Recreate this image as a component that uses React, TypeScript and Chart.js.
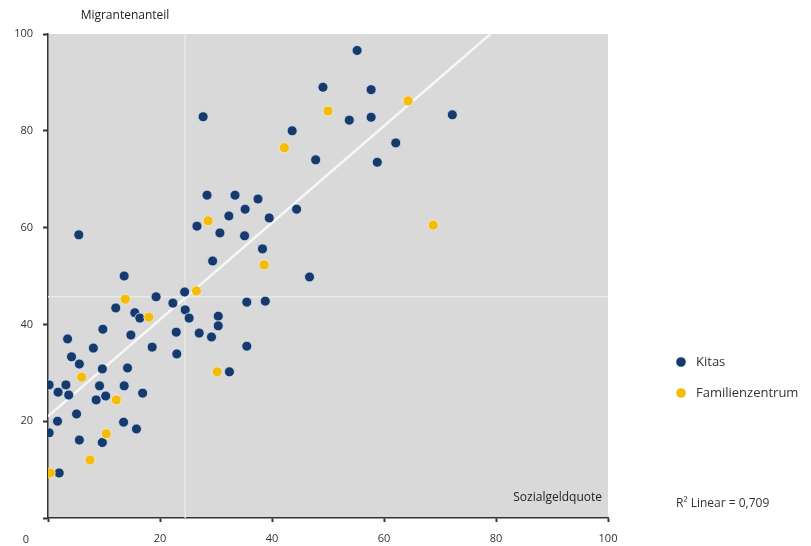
import React, { useEffect, useRef } from "react";
import { Chart, registerables } from "chart.js";

Chart.register(...registerables);

// Kitas (Sozialgeldquote, Migrantenanteil)
const kitasX = [55.2, 49.1, 57.7, 27.7, 43.6, 72.2, 53.8, 57.7, 62.1, 47.8, 58.8, 28.4, 33.4, 37.5, 35.2, 32.3, 39.5, 44.4, 26.6, 30.7, 35.1, 5.5, 38.3, 29.4, 46.7, 13.6, 24.4, 19.3, 22.3, 35.5, 38.8, 12.1, 24.5, 15.5, 16.4, 25.2, 30.4, 30.4, 9.8, 27.0, 22.9, 29.2, 14.8, 3.5, 8.1, 18.6, 35.5, 23.0, 4.2, 5.6, 9.7, 14.2, 32.4, 0.2, 3.2, 1.8, 3.7, 9.2, 13.6, 8.6, 10.3, 16.9, 5.1, 1.7, 13.5, 15.8, 0.2, 5.6, 9.7, 2.0];
const kitasY = [96.6, 89.0, 88.5, 82.9, 80.0, 83.3, 82.2, 82.8, 77.5, 74.0, 73.5, 66.7, 66.7, 65.9, 63.8, 62.4, 62.0, 63.8, 60.3, 58.9, 58.3, 58.5, 55.6, 53.1, 49.8, 50.0, 46.7, 45.7, 44.4, 44.6, 44.8, 43.4, 43.0, 42.4, 41.3, 41.3, 41.7, 39.7, 39.0, 38.2, 38.4, 37.4, 37.8, 37.0, 35.1, 35.3, 35.5, 33.9, 33.3, 31.8, 30.8, 31.0, 30.2, 27.5, 27.5, 26.0, 25.4, 27.3, 27.3, 24.4, 25.2, 25.8, 21.5, 20.0, 19.8, 18.4, 17.6, 16.1, 15.6, 9.3];

// Familienzentrum
const famX = [64.3, 50.0, 42.2, 68.8, 28.6, 38.6, 26.5, 13.8, 18.0, 6.0, 30.2, 12.2, 10.4, 7.5, 0.4];
const famY = [86.2, 84.1, 76.5, 60.5, 61.4, 52.3, 46.9, 45.2, 41.5, 29.1, 30.2, 24.4, 17.4, 12.0, 9.3];

// Linear fit line (endpoints) and mean reference lines
const fitX = [0, 79];
const fitY = [21, 100];
const meanX = 24.5;
const meanY = 45.7;

const xTicks = [0, 20, 40, 60, 80, 100];
const yTicks = [0, 20, 40, 60, 80, 100];

const seriesNames = ["Kitas", "Familienzentrum"];
const xTitle = "Sozialgeldquote";
const yTitle = "Migrantenanteil";
const rText = "R² Linear = 0,709";

const BLUE = "#173a6c";
const YELLOW = "#f3bb0a";
const FONT = "'Open Sans', 'DejaVu Sans', sans-serif";

export default function App() {
  const ref = useRef<HTMLCanvasElement | null>(null);

  useEffect(() => {
    if (!ref.current) return;
    const bgPlugin = {
      id: "bg",
      beforeDraw(chart: any) {
        const { ctx, chartArea } = chart;
        ctx.save();
        ctx.fillStyle = "#d9d9d9";
        ctx.fillRect(chartArea.left, chartArea.top, chartArea.right - chartArea.left, chartArea.bottom - chartArea.top);
        ctx.restore();
      },
      afterDraw(chart: any) {
        const { ctx, chartArea } = chart;
        ctx.save();
        ctx.fillStyle = "#222";
        ctx.textBaseline = "middle";
        ctx.font = `12px ${FONT}`;
        ctx.textAlign = "center";
        ctx.fillText(yTitle, 125, 16);
        ctx.textAlign = "right";
        ctx.fillText(xTitle, chartArea.right - 6, chartArea.bottom - 20);
        // the origin label
        ctx.font = `11px ${FONT}`;
        ctx.fillStyle = "#333";
        ctx.textAlign = "center";
        ctx.fillText(String(xTicks[0]), 26, 540);
        // legend
        const cols = [BLUE, YELLOW];
        ctx.font = `13px ${FONT}`;
        ctx.textAlign = "left";
        seriesNames.forEach((n, i) => {
          const y = 362 + i * 31;
          ctx.beginPath();
          ctx.arc(681, y, 4.8, 0, Math.PI * 2);
          ctx.fillStyle = cols[i];
          ctx.fill();
          ctx.fillStyle = "#333";
          ctx.fillText(n, 696, y);
        });
        ctx.font = `12px ${FONT}`;
        ctx.fillText(rText, 676, 504);
        ctx.restore();
      },
    };

    const chart = new Chart(ref.current, {
      type: "scatter",
      data: {
        datasets: [
          {
            label: seriesNames[0],
            data: kitasX.map((x, i) => ({ x, y: kitasY[i] })),
            backgroundColor: BLUE,
            borderColor: "rgba(215,228,248,0.8)",
            borderWidth: 1,
            pointRadius: 5,
            order: 1,
          },
          {
            label: seriesNames[1],
            data: famX.map((x, i) => ({ x, y: famY[i] })),
            backgroundColor: YELLOW,
            borderColor: "rgba(250,235,190,0.8)",
            borderWidth: 1,
            pointRadius: 5,
            order: 0,
          },
          {
            type: "line",
            label: "fit",
            data: fitX.map((x, i) => ({ x, y: fitY[i] })),
            borderColor: "#f7f7f7",
            borderWidth: 2.5,
            pointRadius: 0,
            order: 3,
          } as any,
          {
            type: "line",
            label: "meanX",
            data: [{ x: meanX, y: yTicks[0] }, { x: meanX, y: yTicks[yTicks.length - 1] }],
            borderColor: "#e9e9e9",
            borderWidth: 1.5,
            pointRadius: 0,
            order: 4,
          } as any,
          {
            type: "line",
            label: "meanY",
            data: [{ x: xTicks[0], y: meanY }, { x: xTicks[xTicks.length - 1], y: meanY }],
            borderColor: "#e9e9e9",
            borderWidth: 1.5,
            pointRadius: 0,
            order: 4,
          } as any,
        ],
      },
      options: {
        animation: false,
        responsive: true,
        maintainAspectRatio: false,
        layout: { padding: { left: 0, top: 34, right: 203, bottom: 0 } },
        plugins: { legend: { display: false }, tooltip: { enabled: false } },
        scales: {
          x: {
            type: "linear",
            min: xTicks[0],
            max: xTicks[xTicks.length - 1],
            afterBuildTicks: (s: any) => { s.ticks = xTicks.map((v) => ({ value: v })); },
            afterFit: (s: any) => { s.height = 28; },
            border: { color: "#333", width: 1.5 },
            grid: { drawOnChartArea: false, drawTicks: true, tickLength: 4, tickColor: "#333", tickWidth: 2 },
            ticks: {
              padding: 10,
              color: "#333",
              font: { family: FONT, size: 11 },
              callback: (v: any) => (v === 0 ? "" : String(v)),
            },
          },
          y: {
            type: "linear",
            min: yTicks[0],
            max: yTicks[yTicks.length - 1],
            afterBuildTicks: (s: any) => { s.ticks = yTicks.map((v) => ({ value: v })); },
            afterFit: (s: any) => { s.width = 48; },
            border: { color: "#333", width: 1.5 },
            grid: { drawOnChartArea: false, drawTicks: true, tickLength: 5, tickColor: "#333", tickWidth: 2 },
            ticks: {
              padding: 10,
              color: "#333",
              font: { family: FONT, size: 11 },
              callback: (v: any) => (v === 0 ? "" : String(v)),
            },
          },
        },
      },
      plugins: [bgPlugin],
    } as any);
    return () => chart.destroy();
  }, []);

  return (
    <div style={{ position: "absolute", left: 0, top: 0, width: 811, height: 546, background: "#fff" }}>
      <canvas ref={ref} />
    </div>
  );
}
